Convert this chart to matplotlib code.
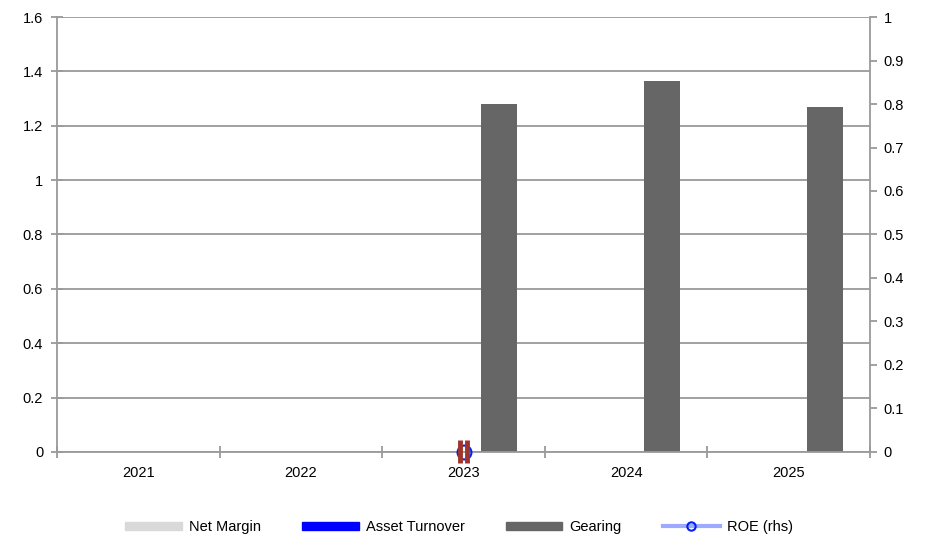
import numpy as np
import matplotlib.pyplot as plt
from matplotlib.lines import Line2D
from matplotlib.patches import Patch

plt.rcParams['font.family'] = ['Liberation Sans', 'DejaVu Sans']

years = ['2021', '2022', '2023', '2024', '2025']
net_margin = [np.nan, np.nan, 0.0, np.nan, np.nan]
asset_turnover = [np.nan, np.nan, 0.0, np.nan, np.nan]
gearing = [np.nan, np.nan, 1.28, 1.364, 1.27]
roe = [np.nan, np.nan, 0.0, np.nan, np.nan]

x = np.arange(len(years))
w = 0.221
grid_c = '#9a9a9a'

fig = plt.figure(figsize=(9.26, 5.4), dpi=100)
ax = fig.add_axes([0.0616, 0.163, 0.8779, 0.8055])
ax2 = ax.twinx()

ax.set_axisbelow(True)
ax.grid(axis='y', color=grid_c, linewidth=1.3)

ax.bar(x - w, net_margin, w, color='#d9d9d9', label='Net Margin')
ax.bar(x, asset_turnover, w, color='#0000ff', label='Asset Turnover')
ax.bar(x + w, gearing, w, color='#666666', label='Gearing')

ax2.plot(x, roe, color='#9daaff', linewidth=3, marker='o', markersize=10,
         markerfacecolor='none', markeredgecolor='#0022ee', markeredgewidth=1.5,
         clip_on=False, zorder=5)

# zero-height bars show as red outlines at 2023, drawn over the ROE marker
ratio = 1 / 1.6
for xi, v in zip(x, asset_turnover):
    if not np.isnan(v):
        ax2.vlines([xi - 0.024, xi + 0.024], (v - 0.04) * ratio, (v + 0.045) * ratio,
                   color='#a0342a', linewidth=3.5, zorder=6, clip_on=False)

ax.set_xlim(-0.5, len(years) - 0.5)
ax.set_ylim(0, 1.6)
ax.set_yticks(np.arange(0, 1.61, 0.2))
ax.set_yticklabels(['0', '0.2', '0.4', '0.6', '0.8', '1', '1.2', '1.4', '1.6'])
ax2.set_ylim(0, 1)
ax2.set_yticks(np.arange(0, 1.01, 0.1))
ax2.set_yticklabels(['0', '0.1', '0.2', '0.3', '0.4', '0.5', '0.6', '0.7', '0.8', '0.9', '1'])

ax.set_xticks(x)
ax.set_xticklabels(years)
ax.set_xticks(np.arange(-0.5, len(years), 1), minor=True)
ax.tick_params(axis='x', which='major', length=0, pad=10, labelsize=10.5)
ax.tick_params(axis='x', which='minor', length=8, direction='inout', color=grid_c, width=1.3)
ax.tick_params(axis='y', length=8, direction='inout', color=grid_c, width=1.3, labelsize=10.5, pad=6)
ax2.tick_params(axis='y', length=5, direction='out', color=grid_c, width=1.3, labelsize=10.5, pad=5)

for a in (ax, ax2):
    for s in a.spines.values():
        s.set_visible(False)
    a.spines['left'].set_visible(a is ax)
    a.spines['right'].set_visible(a is ax2)
    a.spines['bottom'].set_visible(a is ax)
    for s in ('left', 'right', 'bottom'):
        a.spines[s].set_color(grid_c)
        a.spines[s].set_linewidth(1.3)

handles = [
    Patch(color='#d9d9d9'),
    Patch(color='#0000ff'),
    Patch(color='#666666'),
    Line2D([], [], color='#9daaff', linewidth=3, marker='o', markersize=6,
           markerfacecolor='none', markeredgecolor='#0022ee', markeredgewidth=1.5),
]
fig.legend(handles, ['Net Margin', 'Asset Turnover', 'Gearing', 'ROE (rhs)'],
           loc='center', bbox_to_anchor=(0.4955, 0.024), ncol=4, frameon=False,
           fontsize=10.5, handlelength=3.9, handleheight=0.5, handletextpad=0.5,
           columnspacing=2.8)

fig.savefig('out.png', dpi=100)
